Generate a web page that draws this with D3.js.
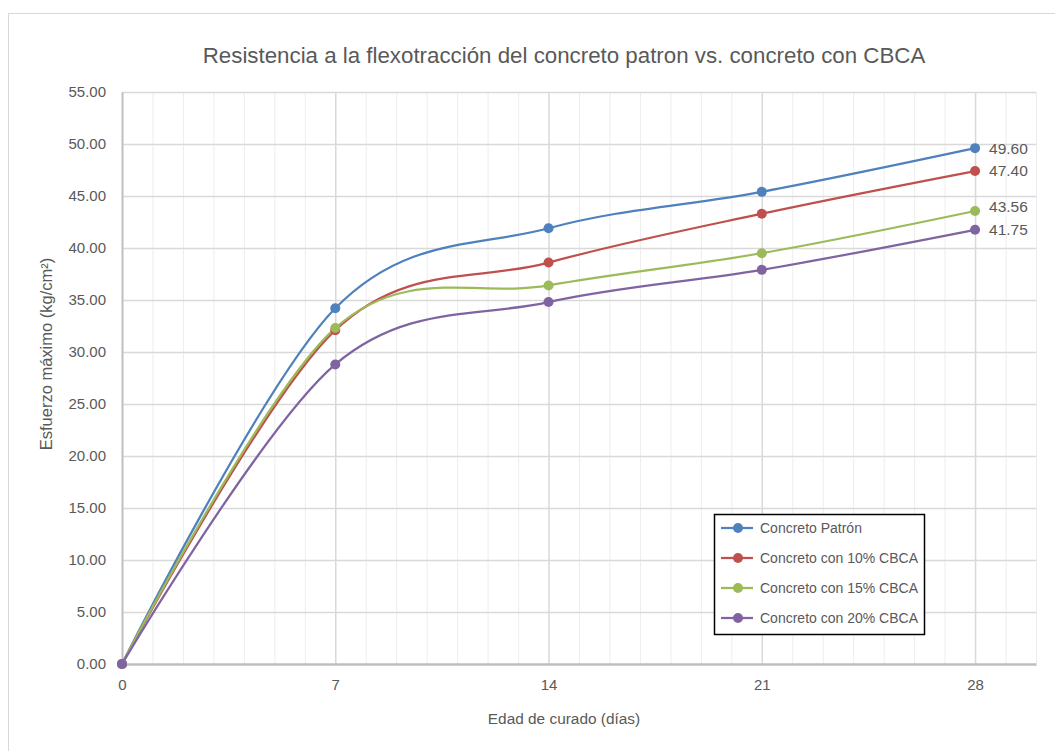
<!DOCTYPE html>
<html>
<head>
<meta charset="utf-8">
<script src="https://cdn.jsdelivr.net/npm/d3@7"></script>
<style>
	body { margin: 0; background: #fff; }
	svg text { font-family: "Liberation Sans", Arial, sans-serif; fill: #595959; }
</style>
</head>
<body>
<svg id="svg_chart" width="1055" height="751"></svg>
<script>
var days = [0, 7, 14, 21, 28];
var seriesNames = ["Concreto Patrón", "Concreto con 10% CBCA", "Concreto con 15% CBCA", "Concreto con 20% CBCA"];
var patron = [0, 34.2, 41.9, 45.4, 49.60];
var cbca10 = [0, 32.1, 38.6, 43.3, 47.40];
var cbca15 = [0, 32.3, 36.4, 39.5, 43.56];
var cbca20 = [0, 28.8, 34.8, 37.9, 41.75];
var seriesColors = ["#4F81BD", "#C0504D", "#9BBB59", "#8064A2"];
var yTicks = [0, 5, 10, 15, 20, 25, 30, 35, 40, 45, 50, 55];
var xTicks = [0, 7, 14, 21, 28];

var svg = d3.select("#svg_chart"),
	margin = { top: 92, left: 122, right: 19, bottom: 87 },
	width = +svg.attr("width"),
	height = +svg.attr("height");

// outer chart border
svg.append("rect")
	.attr("x", 8.5).attr("y", 13.5)
	.attr("width", width).attr("height", height)
	.attr("fill", "none").attr("stroke", "#d9d9d9");

var x = d3.scaleLinear().domain([0, 30]).range([margin.left, width - margin.right]);
var y = d3.scaleLinear().domain([0, 55]).range([height - margin.bottom, margin.top]);

var grid = svg.append("g").attr("class", "grid");
// minor vertical grid, one per day
grid.selectAll("line.minor").data(d3.range(1, 31).filter(function(d) { return d % 7 != 0; }))
	.enter().append("line")
	.attr("x1", function(d) { return x(d) + 0.5; })
	.attr("x2", function(d) { return x(d) + 0.5; })
	.attr("y1", y(55)).attr("y2", y(0))
	.attr("stroke", "#ededed").attr("stroke-width", 1);
grid.selectAll("line.majorx").data(xTicks.slice(1))
	.enter().append("line")
	.attr("x1", function(d) { return x(d) + 0.5; })
	.attr("x2", function(d) { return x(d) + 0.5; })
	.attr("y1", y(55)).attr("y2", y(0))
	.attr("stroke", "#d9d9d9").attr("stroke-width", 1.5);
grid.selectAll("line.majory").data(yTicks.slice(1))
	.enter().append("line")
	.attr("x1", x(0)).attr("x2", x(30))
	.attr("y1", function(d) { return y(d) + 0.5; })
	.attr("y2", function(d) { return y(d) + 0.5; })
	.attr("stroke", "#d9d9d9").attr("stroke-width", 1.5);

// axes
var yAxis = svg.append("g")
	.attr("transform", "translate(" + x(0) + ",0)")
	.call(d3.axisLeft(y).tickValues(yTicks).tickFormat(d3.format(".2f")).tickSize(0).tickPadding(16));
var xAxis = svg.append("g")
	.attr("transform", "translate(0," + y(0) + ")")
	.call(d3.axisBottom(x).tickValues(xTicks).tickSize(0).tickPadding(15));
[yAxis, xAxis].forEach(function(a) {
	a.select(".domain").attr("stroke", "#bfbfbf").attr("stroke-width", 2);
	a.selectAll("text").style("font-size", "15px").attr("fill", "#595959");
});
xAxis.select(".domain").attr("stroke-width", 2.5);

// titles
svg.append("text")
	.attr("x", 564).attr("y", 63)
	.attr("text-anchor", "middle")
	.style("font-size", "22.3px")
	.text("Resistencia a la flexotracción del concreto patron vs. concreto con CBCA");
svg.append("text")
	.attr("x", 564).attr("y", 724)
	.attr("text-anchor", "middle")
	.style("font-size", "15.4px")
	.text("Edad de curado (días)");
svg.append("text")
	.attr("transform", "translate(52,354) rotate(-90)")
	.attr("text-anchor", "middle")
	.style("font-size", "16.5px")
	.text("Esfuerzo máximo  (kg/cm²)");

// series
var allSeries = [patron, cbca10, cbca15, cbca20];
var line = d3.line()
	.x(function(d, i) { return x(days[i]); })
	.y(function(d) { return y(d); })
	.curve(d3.curveCardinal.tension(0));

var g_line = svg.append("g").attr("class", "lines");
for (var i = 0; i < allSeries.length; ++i) {
	g_line.append("path")
		.attr("d", line(allSeries[i]))
		.attr("fill", "none")
		.attr("stroke", seriesColors[i])
		.attr("stroke-width", 2.25);
}
for (var i = 0; i < allSeries.length; ++i) {
	g_line.selectAll("circle.s" + i).data(allSeries[i])
		.enter().append("circle")
		.attr("cx", function(d, j) { return x(days[j]); })
		.attr("cy", function(d) { return y(d); })
		.attr("r", 5)
		.attr("fill", seriesColors[i]);
}

// end labels
var labelShift = [0, 0, -4, 0];
for (var i = 0; i < allSeries.length; ++i) {
	var last = allSeries[i][allSeries[i].length - 1];
	svg.append("text")
		.attr("x", x(28) + 14)
		.attr("y", y(last) + labelShift[i])
		.attr("dy", "0.35em")
		.style("font-size", "15.5px")
		.text(d3.format(".2f")(last));
}

// legend
var legend = svg.append("g").attr("transform", "translate(714,514)");
legend.append("rect")
	.attr("x", 0.5).attr("y", 0.5)
	.attr("width", 210).attr("height", 120)
	.attr("fill", "#fff").attr("stroke", "#000").attr("stroke-width", 1.5);
var item = legend.selectAll("g.item").data(seriesNames)
	.enter().append("g")
	.attr("transform", function(d, i) { return "translate(0," + (14 + i * 30) + ")"; });
item.append("line")
	.attr("x1", 7).attr("x2", 39)
	.attr("stroke", function(d, i) { return seriesColors[i]; })
	.attr("stroke-width", 2.25);
item.append("circle")
	.attr("cx", 24).attr("r", 5)
	.attr("fill", function(d, i) { return seriesColors[i]; });
item.append("text")
	.attr("x", 46).attr("dy", "0.35em")
	.style("font-size", "14px")
	.text(function(d) { return d; });
</script>
</body>
</html>
